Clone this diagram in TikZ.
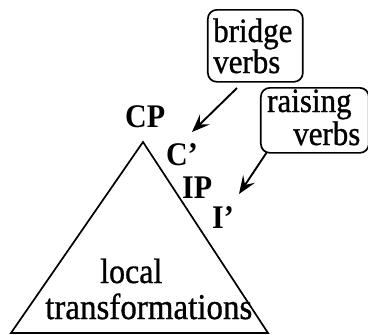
\documentclass[tikz,border=0pt]{standalone}
\usepackage{fontspec}
\setmainfont{Liberation Serif}
\newfontfamily\inkserif[FakeBold=0.9]{Liberation Serif}
\usetikzlibrary{arrows.meta}
\newcommand{\tallword}[1]{\scalebox{1}[1.1]{#1}}
\begin{document}
\begin{tikzpicture}[x=1pt,y=-1pt,
  every node/.style={inner sep=0pt,font=\inkserif\fontsize{31}{33}\selectfont},
  cat/.style={anchor=base west,font=\fontsize{30}{32}\selectfont\bfseries},
  word/.style={anchor=base west},
  verbbox/.style={draw,line width=1.7pt,rounded corners=9pt},
  pointer/.style={line width=1.9pt,-{Stealth[length=18pt,width=14pt,inset=7pt]}}]
  \useasboundingbox (0,0) rectangle (368,335);

  % tree triangle
  \coordinate (top) at (143,142);
  \coordinate (bl) at (11,333);
  \coordinate (br) at (268,333);
  \draw[line width=1.7pt,line join=miter] (top) -- (br) -- (bl) -- cycle;

  % category labels along the right edge
  \node[cat] (cp) at (125,127) {\tallword{CP}};
  \node[cat] (cbar) at (166,165) {\tallword{C'}};
  \node[cat] (ip) at (182,198) {\tallword{IP}};
  \node[cat] (ibar) at (212,228) {\tallword{I'}};

  % contents of the triangle
  \node[word,font=\inkserif\fontsize{32}{34}\selectfont] (local) at (100,283) {\tallword{local}};
  \node[word,font=\inkserif\fontsize{33}{35}\selectfont] (trans) at (45,319) {\tallword{transformations}};

  % verb classes
  \node[verbbox,minimum width=95pt,minimum height=72pt,anchor=north west] (bridgebox) at (207,9) {};
  \node[word] (bridge) at (213,42) {\tallword{bridge}};
  \node[word] (bverbs) at (213,73) {\tallword{verbs}};

  \node[verbbox,minimum width=108pt,minimum height=65pt,anchor=north west] (raisebox) at (260,87) {};
  \node[word] (raising) at (267,112) {\tallword{raising}};
  \node[word] (rverbs) at (293,145) {\tallword{verbs}};

  % pointers from verb classes to attachment sites
  \coordinate (p1s) at (237,88);
  \coordinate (p1e) at (192,132);
  \coordinate (p2s) at (267,152);
  \coordinate (p2e) at (239,194);
  \draw[pointer] (p1s) -- (p1e);
  \draw[pointer] (p2s) -- (p2e);
\end{tikzpicture}
\end{document}
